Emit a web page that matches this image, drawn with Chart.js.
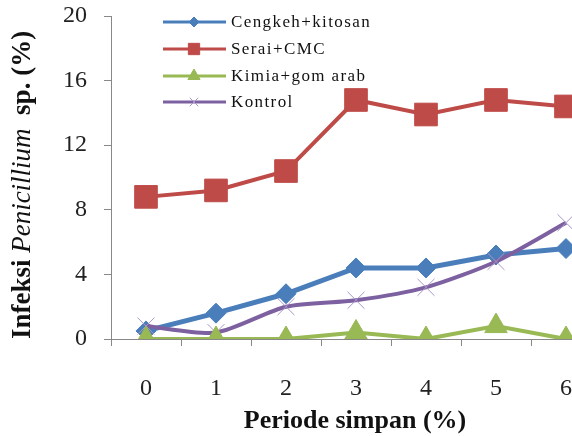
<!DOCTYPE html>
<html>
<head>
<meta charset="utf-8">
<script src="https://cdn.jsdelivr.net/npm/chart.js@4/dist/chart.umd.min.js"></script>
<style>
  html, body { margin: 0; padding: 0; background: #fff; overflow: hidden; }
  #wrap { width: 606px; height: 436px; }
</style>
</head>
<body>
<div id="wrap"><canvas id="chart" width="606" height="436"></canvas></div>
<script>
var periods = ['0', '1', '2', '3', '4', '5', '6'];
var cengkehKitosan = [0.5, 1.6, 2.8, 4.4, 4.4, 5.2, 5.6];
var seraiCMC = [8.8, 9.2, 10.4, 14.8, 13.9, 14.8, 14.4];
var kimiaGomArab = [0, 0, 0, 0.4, 0, 0.8, 0];
var kontrol = [0.8, 0.4, 2.0, 2.4, 3.2, 4.8, 7.2];
var yTicks = [0, 4, 8, 12, 16, 20];

var serif = "'Liberation Serif', 'Times New Roman', serif";

var legendItems = [
  { label: 'Cengkeh+kitosan', color: '#4a7ebb', style: 'rectRot', r: 5, fill: '#4a7ebb', bw: 1 },
  { label: 'Serai+CMC', color: '#be4b48', style: 'rect', r: 8, fill: '#be4b48', bw: 1 },
  { label: 'Kimia+gom arab', color: '#98b954', style: 'triangle', r: 7, fill: '#98b954', bw: 1 },
  { label: 'Kontrol', color: '#7d60a0', style: 'crossRot', r: 6, fill: '#a995c9', bw: 1 }
];

// legend, axis titles drawn by hand (mixed bold / italic)
var extras = {
  id: 'extras',
  afterDraw: function (chart) {
    var ctx = chart.ctx;
    ctx.save();
    // legend
    var rows = [22, 49, 76, 102];
    for (var i = 0; i < legendItems.length; i++) {
      var it = legendItems[i];
      var y = rows[i];
      ctx.strokeStyle = it.color;
      ctx.lineWidth = 3;
      ctx.beginPath();
      ctx.moveTo(163, y);
      ctx.lineTo(226, y);
      ctx.stroke();
      ctx.fillStyle = it.fill;
      ctx.strokeStyle = it.fill;
      ctx.lineWidth = it.bw;
      Chart.helpers.drawPoint(ctx, { pointStyle: it.style, radius: it.r, borderWidth: it.bw }, 194, y);
      ctx.fillStyle = '#111';
      ctx.font = '17px ' + serif;
      ctx.textAlign = 'left';
      ctx.textBaseline = 'middle';
      ctx.letterSpacing = '1.4px';
      ctx.fillText(it.label, 231, y + 1);
    }
    ctx.letterSpacing = '0px';

    // x title
    ctx.fillStyle = '#111';
    ctx.font = 'bold 26px ' + serif;
    ctx.textAlign = 'center';
    ctx.textBaseline = 'alphabetic';
    ctx.fillText('Periode simpan (%)', 355, 428);

    // y title
    var parts = [
      { t: 'Infeksi ', f: 'bold 27px ' + serif },
      { t: 'Penicillium', f: 'italic 27px ' + serif },
      { t: '  sp. (%)', f: 'bold 27px ' + serif }
    ];
    var total = 0;
    for (var j = 0; j < parts.length; j++) {
      ctx.font = parts[j].f;
      parts[j].w = ctx.measureText(parts[j].t).width;
      total += parts[j].w;
    }
    ctx.translate(30, 185);
    ctx.rotate(-Math.PI / 2);
    ctx.textAlign = 'left';
    var x = -total / 2;
    for (var k = 0; k < parts.length; k++) {
      ctx.font = parts[k].f;
      ctx.fillText(parts[k].t, x, 0);
      x += parts[k].w;
    }
    ctx.restore();
  }
};

new Chart(document.getElementById('chart'), {
  type: 'line',
  data: {
    labels: periods,
    datasets: [
      {
        label: 'Cengkeh+kitosan', data: cengkehKitosan, order: 3,
        borderColor: '#4a7ebb', backgroundColor: '#4a7ebb', borderWidth: 5,
        pointStyle: 'rectRot', pointRadius: 10, pointBorderWidth: 1
      },
      {
        label: 'Serai+CMC', data: seraiCMC, order: 2,
        borderColor: '#be4b48', backgroundColor: '#be4b48', borderWidth: 4,
        pointStyle: 'rect', pointRadius: 16, pointBorderWidth: 1
      },
      {
        label: 'Kimia+gom arab', data: kimiaGomArab, order: 0,
        borderColor: '#98b954', backgroundColor: '#98b954', borderWidth: 4,
        pointStyle: 'triangle', pointRadius: 13, pointBorderWidth: 1
      },
      {
        label: 'Kontrol', data: kontrol, order: 1, tension: 0.25,
        borderColor: '#7d60a0', backgroundColor: '#a995c9', borderWidth: 4,
        pointStyle: 'crossRot', pointRadius: 12, pointBorderWidth: 1,
        pointBorderColor: '#a995c9'
      }
    ]
  },
  options: {
    responsive: false,
    animation: false,
    events: [],
    layout: { autoPadding: false, padding: { left: 0, right: 5, top: 16, bottom: 0 } },
    plugins: { legend: { display: false }, tooltip: { enabled: false } },
    scales: {
      x: {
        offset: true,
        grid: { display: true, offset: true, drawOnChartArea: false, color: '#888', tickLength: 7 },
        border: { display: true, color: '#888', width: 1 },
        ticks: { color: '#222', font: { family: serif, size: 24 }, padding: 28, maxRotation: 0 },
        afterFit: function (s) { s.height = 97; }
      },
      y: {
        min: 0, max: 20,
        afterBuildTicks: function (s) { s.ticks = yTicks.map(function (v) { return { value: v }; }); },
        grid: { display: true, drawOnChartArea: false, color: '#888', tickLength: 7 },
        border: { display: true, color: '#888', width: 1 },
        ticks: { color: '#222', font: { family: serif, size: 24 }, padding: 17 },
        afterFit: function (s) { s.width = 111; s.paddingTop = 0; s.paddingBottom = 0; }
      }
    }
  },
  plugins: [extras]
});
</script>
</body>
</html>
